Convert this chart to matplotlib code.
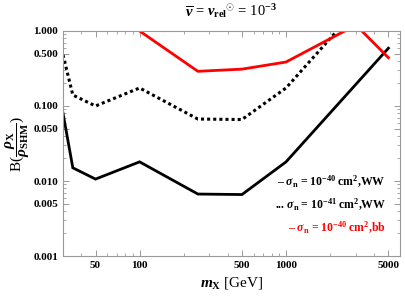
import numpy as np
import matplotlib
matplotlib.use("Agg")
import matplotlib.pyplot as plt
import matplotlib.ticker as ticker

plt.rcParams['font.family'] = ['Liberation Serif', 'DejaVu Serif']
plt.rcParams['font.weight'] = 'bold'
plt.rcParams['mathtext.fontset'] = 'custom'
plt.rcParams['mathtext.rm'] = 'Liberation Serif:bold'
plt.rcParams['mathtext.it'] = 'Liberation Serif:italic:bold'
plt.rcParams['mathtext.bf'] = 'Liberation Serif:bold'

# curves
mx_ww = [30, 35, 50, 100, 250, 500, 1000, 5000]
b_ww_40 = [0.08, 0.015, 0.0106, 0.018, 0.0067, 0.0066, 0.018, 0.59]
b_ww_41 = [0.48, 0.14, 0.100, 0.174, 0.067, 0.066, 0.174, 5.9]
mx_bb = [100, 250, 500, 1000, 3000, 5000]
b_bb_40 = [1.0, 0.29, 0.31, 0.386, 1.2, 0.44]

yticks = [0.001, 0.005, 0.010, 0.050, 0.100, 0.500, 1.000]
ytick_labels = ['0.001', '0.005', '0.010', '0.050', '0.100', '0.500', '1.000']
xticks = [50, 100, 500, 1000, 5000]

legend_text = [r'– $\sigma_{\rm n}$ = 10$^{-40}$ cm$^{2}$,WW',
               r'... $\sigma_{\rm n}$ = 10$^{-41}$ cm$^{2}$,WW',
               r'– $\sigma_{\rm n}$ = 10$^{-40}$ cm$^{2}$,bb']
legend_colors = ['black', 'black', 'red']

fig = plt.figure(figsize=(4.05, 2.96), dpi=100)
ax = fig.add_axes([0.1556, 0.1351, 0.8321, 0.7602])

ax.plot(mx_ww, b_ww_40, color='black', lw=2.0, solid_joinstyle='miter')
ax.plot(mx_ww, b_ww_41, color='black', lw=2.2, linestyle=(0, (1, 1)))
ax.plot(mx_bb, b_bb_40, color='red', lw=2.0)

ax.set_xscale('log')
ax.set_yscale('log')
ax.set_xlim(30, 6000)
ax.set_ylim(0.001, 1.0)

ax.set_yticks(yticks)
ax.set_yticklabels(ytick_labels)
ax.set_xticks(xticks)
ax.set_xticklabels([str(t) for t in xticks])
ax.xaxis.set_minor_locator(ticker.LogLocator(base=10, subs=np.arange(2, 10)))
ax.yaxis.set_minor_locator(ticker.LogLocator(base=10, subs=np.arange(2, 10)))
ax.xaxis.set_minor_formatter(ticker.NullFormatter())
ax.yaxis.set_minor_formatter(ticker.NullFormatter())

ax.tick_params(which='both', direction='in', top=True, right=True,
               color='#999999', labelsize=8)
ax.tick_params(which='major', length=4, width=0.7)
ax.tick_params(which='minor', length=2, width=0.6)
for sp in ax.spines.values():
    sp.set_color('#999999')
    sp.set_linewidth(0.8)

ax.set_xlabel(r'$m_{\rm X}$ [GeV]', fontsize=11, labelpad=4)
ax.set_ylabel(r'B($\dfrac{\rho_{\rm X}}{\rho_{\rm SHM}}$)', fontsize=11, labelpad=1)
ax.set_title(r'$\overline{v}$ = $v_{\rm rel}$$^{\odot}$ = 10$^{-3}$', fontsize=10.5, pad=11)

for i, (txt, col) in enumerate(zip(legend_text, legend_colors)):
    ax.text(0.958, 0.33 - i * 0.102, txt, transform=ax.transAxes, ha='right',
            va='center', fontsize=8.5, color=col)

fig.savefig('out.png', dpi=100)
